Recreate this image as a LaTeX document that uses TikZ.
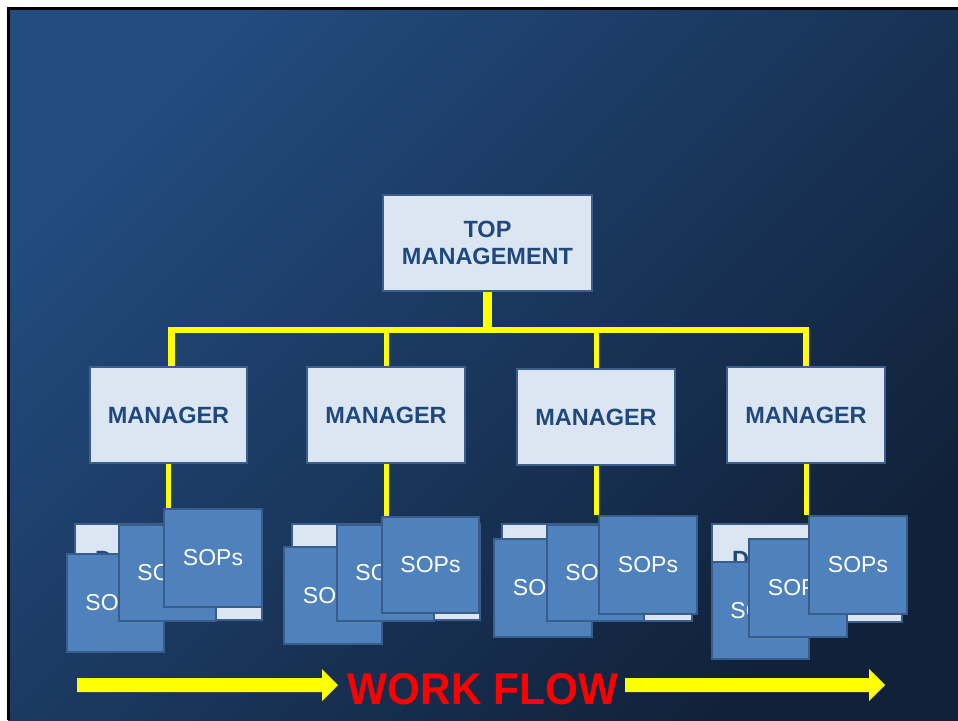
\documentclass[tikz,border=0pt]{standalone}
\usepackage{fontspec}
\setmainfont{Liberation Sans}
\usetikzlibrary{backgrounds,calc}
\definecolor{pale}{HTML}{DCE6F2}
\definecolor{bord}{HTML}{3B5E8C}
\definecolor{txt}{HTML}{1F497D}
\definecolor{sop}{HTML}{4F81BD}
\definecolor{sopb}{HTML}{385D8A}
\definecolor{bgA}{RGB}{34,75,126}
\definecolor{bgM}{RGB}{29,60,101}
\definecolor{bgB}{RGB}{17,33,57}
\definecolor{wfy}{HTML}{FFFF00}
\newcommand\rbox[7]{\node[#1, minimum width={(#5)-(#3)}, minimum height={(#6)-(#4)}] (#2) at ({((#3)+(#5))/2},{((#4)+(#6))/2}) {#7};}
\begin{document}
\begin{tikzpicture}[x=1pt,y=-1pt,
  box/.style={draw=bord, line width=2pt, fill=pale, text=txt, inner sep=0pt, font=\fontsize{23.5}{27}\selectfont\bfseries, align=center},
  sopbox/.style={draw=sopb, line width=2pt, fill=sop, text=white, inner sep=0pt, font=\fontsize{23}{27}\selectfont},
  dtext/.style={text=txt, inner sep=0pt, anchor=base west, font=\fontsize{23.5}{27}\selectfont\bfseries},
  link/.style={draw=wfy, line width=5pt},
  flow/.style={fill=wfy}]
\useasboundingbox (0,0) rectangle (958,720);
\begin{scope}[on background layer]
  \fill[white] (0,0) rectangle (958,720);
  \shade[top color=bgA, middle color=bgM, bottom color=bgB, shading angle=45] (8,8) rectangle (958,720);
  \draw[black, line width=3pt] (8.5,720) -- (8.5,8.5) -- (958,8.5);
\end{scope}

% top management
\rbox{box}{tm}{383}{195}{592}{291}{TOP\\MANAGEMENT}
% managers
\rbox{box}{m1}{90}{367}{247}{463}{MANAGER}
\rbox{box}{m2}{307}{367}{465}{463}{MANAGER}
\rbox{box}{m3}{517}{369}{675}{465}{MANAGER}
\rbox{box}{m4}{727}{367}{885}{463}{MANAGER}

% cluster 1
\rbox{box}{p1}{75}{524}{262}{620}{}
\node[dtext] (d1) at (95,567) {D};
\rbox{sopbox}{a1}{67}{554}{164}{652}{SOPs}
\rbox{sopbox}{b1}{119}{525}{216}{621}{SOPs}
\rbox{sopbox}{c1}{164}{509}{262}{607}{SOPs}
% cluster 2
\rbox{box}{p2}{292}{524}{480}{620}{}
\rbox{sopbox}{a2}{284}{547}{382}{644}{SOPs}
\rbox{sopbox}{b2}{337}{525}{434}{621}{SOPs}
\rbox{sopbox}{c2}{382}{517}{479}{613}{SOPs}
% cluster 3
\rbox{box}{p3}{502}{524}{692}{621}{}
\rbox{sopbox}{a3}{494}{539}{592}{637}{SOPs}
\rbox{sopbox}{b3}{547}{525}{644}{621}{SOPs}
\rbox{sopbox}{c3}{599}{516}{697}{614}{SOPs}
% cluster 4
\rbox{box}{p4}{712}{524}{902}{622}{}
\node[dtext] (d4) at (732,567) {D};
\rbox{sopbox}{a4}{712}{562}{809}{659}{SOPs}
\rbox{sopbox}{b4}{749}{539}{847}{637}{SOPs}
\rbox{sopbox}{c4}{809}{516}{907}{614}{SOPs}

% connectors
\coordinate (busL) at (171,330);
\coordinate (busR) at (806,330);
\begin{scope}[on background layer]
  \draw[link, line width=8.5pt] (tm.south) -- (tm.south |- busL);
  \draw[link, line width=6.5pt, line join=miter] (busL |- m1.north) -- (busL) -- (busR) -- (busR |- m4.north);
  \draw[link, line width=7pt] (busL |- m1.north) -- ($(busL)+(0,-3)$);
  \draw[link] (m2.north) -- (m2.north |- busL);
  \draw[link] (m3.north) -- (m3.north |- busL);
  \draw[link] (m1.south) -- (m1.south |- c1.north);
  \draw[link] (m2.south) -- (m2.south |- c2.north);
  \draw[link] (m3.south) -- (m3.south |- c3.north);
  \draw[link] (m4.south) -- (m4.south |- c4.north);
\end{scope}

% work flow
\node[text=red, inner sep=0pt, font=\fontsize{44.5}{48}\selectfont\bfseries] (wf) at (483,689) {\scalebox{0.95}[1]{WORK FLOW}};
\fill[flow] (77,678) -- (322,678) -- (322,669) -- (338,685) -- (322,701) -- (322,692) -- (77,692) -- cycle;
\fill[flow] (625,678) -- (869,678) -- (869,669) -- (885,685) -- (869,701) -- (869,692) -- (625,692) -- cycle;
\end{tikzpicture}
\end{document}
